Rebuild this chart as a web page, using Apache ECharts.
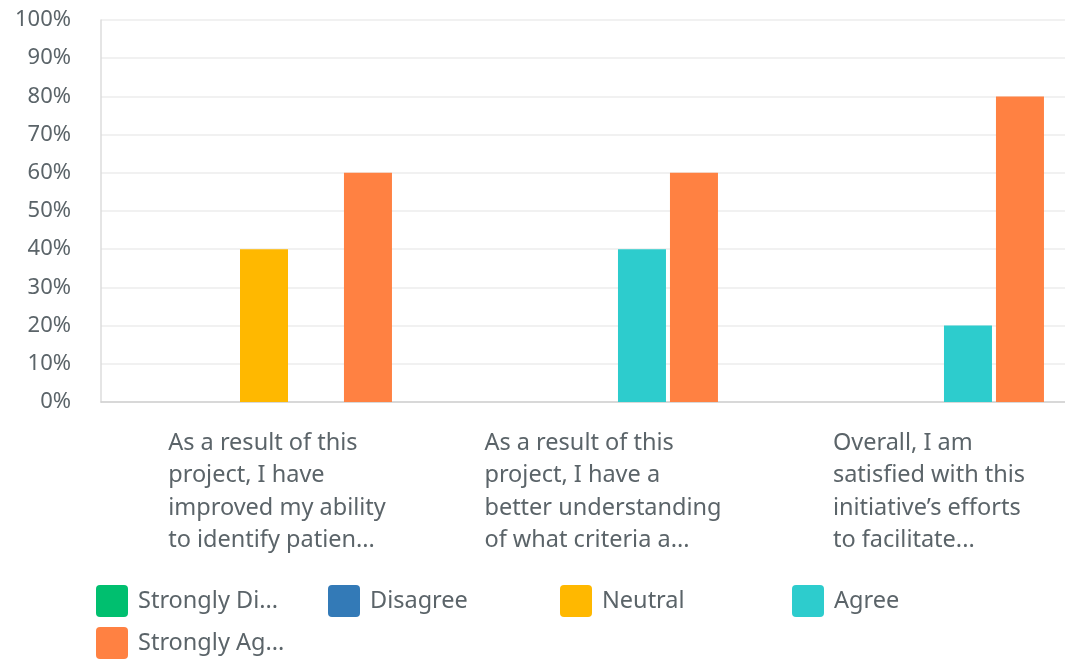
<!DOCTYPE html>
<html>
<head>
<meta charset="utf-8">
<script src="https://cdn.jsdelivr.net/npm/echarts@6/dist/echarts.min.js"></script>
<style>
  html, body { margin: 0; padding: 0; background: #fff; }
  #chart { width: 1065px; height: 659px; }
</style>
</head>
<body>
<div id="chart"></div>
<script>
// Question labels (wrapped and shortened as shown under each group)
const categories = [
  'As a result of this\nproject, I have\nimproved my ability\nto identify patien...',
  'As a result of this\nproject, I have a\nbetter understanding\nof what criteria a...',
  'Overall, I am\nsatisfied with this\ninitiative\u2019s efforts\nto facilitate...'
];

// Response options and their shortened legend text
const seriesNames = ['Strongly Disagree', 'Disagree', 'Neutral', 'Agree', 'Strongly Agree'];
const legendLabels = ['Strongly Di...', 'Disagree', 'Neutral', 'Agree', 'Strongly Ag...'];

// Percent of respondents per question
const stronglyDisagree = [0, 0, 0];
const disagree = [0, 0, 0];
const neutral = [40, 0, 0];
const agree = [0, 40, 20];
const stronglyAgree = [60, 60, 80];

// Value axis: 0% .. 100% in steps of 10
const yMin = 0;
const yMax = 100;
const yStep = 10;

const seriesValues = [stronglyDisagree, disagree, neutral, agree, stronglyAgree];
const seriesColors = ['#00BF6F', '#337AB7', '#FFB800', '#2DCCCD', '#FF8142'];

const textColor = '#5b6469';
const font = '"Noto Sans", "Open Sans", sans-serif';
const roundSquare = 'path://M4,0H28A4,4,0,0,1,32,4V28A4,4,0,0,1,28,32H4A4,4,0,0,1,0,28V4A4,4,0,0,1,4,0Z';

const chart = echarts.init(document.getElementById('chart'), null, { renderer: 'canvas' });

chart.setOption({
  animation: false,
  textStyle: { fontFamily: font },
  // plot runs past the right edge of the canvas
  grid: { left: 101, width: 978, top: 20, height: 382, containLabel: false, outerBoundsMode: 'none' },
  xAxis: {
    type: 'category',
    data: categories,
    axisTick: { show: false },
    axisLine: { lineStyle: { color: '#cfcfcf', width: 1.5 } },
    axisLabel: {
      interval: 0,
      margin: 25,
      align: 'center',
      padding: [0, 0, 0, 26],
      formatter: function (v) {
        return v.split('\n').map(function (l) { return '{t|' + l + '}'; }).join('\n');
      },
      rich: {
        t: { align: 'left', fontSize: 23.5, lineHeight: 32.5, color: textColor, fontFamily: font }
      }
    }
  },
  yAxis: {
    type: 'value',
    min: yMin,
    max: yMax,
    interval: yStep,
    axisLine: { show: true, lineStyle: { color: '#dddddd', width: 1.5 } },
    axisTick: { show: false },
    splitLine: { lineStyle: { color: '#ececec', width: 1.5 } },
    axisLabel: {
      formatter: '{value}%',
      margin: 30,
      fontSize: 22,
      color: textColor,
      fontFamily: font
    }
  },
  legend: {
    left: 96,
    top: 585,
    width: 960,
    padding: 0,
    itemWidth: 32,
    itemHeight: 32,
    itemGap: 10,
    icon: roundSquare,
    data: seriesNames,
    formatter: function (name) {
      return '{n|' + legendLabels[seriesNames.indexOf(name)] + '}';
    },
    textStyle: {
      fontSize: 23,
      color: textColor,
      fontFamily: font,
      rich: {
        n: { width: 180, align: 'left', fontSize: 23.5, lineHeight: 32, color: textColor, fontFamily: font, padding: [0, 0, 0, 5] }
      }
    }
  },
  series: seriesNames.map(function (name, i) {
    return {
      name: name,
      type: 'bar',
      data: seriesValues[i],
      barWidth: 48,
      barGap: '8.3%',
      itemStyle: { color: seriesColors[i] }
    };
  })
});
</script>
</body>
</html>
